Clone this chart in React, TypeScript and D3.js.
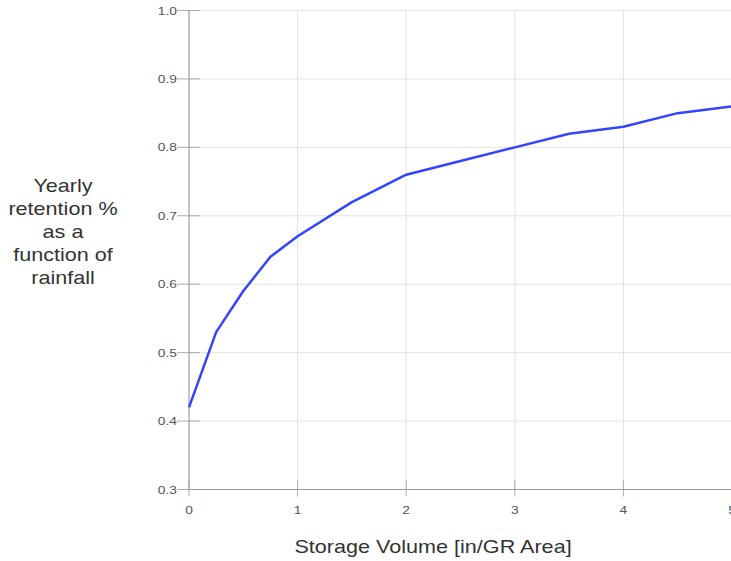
import React from "react";
import * as d3 from "d3";

const xValues = [0, 0.25, 0.5, 0.75, 1, 1.5, 2, 2.5, 3, 3.5, 4, 4.5, 5];
const yValues = [0.42, 0.53, 0.59, 0.64, 0.67, 0.72, 0.76, 0.78, 0.8, 0.82, 0.83, 0.85, 0.86];
const xTicks = [0, 1, 2, 3, 4, 5];
const yTicks = [0.3, 0.4, 0.5, 0.6, 0.7, 0.8, 0.9, 1.0];
const yLabelLines = ["Yearly", "retention %", "as a", "function of", "rainfall"];
const xTitle = "Storage Volume [in/GR Area]";

export default function App() {
  const W = 731, H = 561;
  const x = d3.scaleLinear().domain([0, 5]).range([189, 732]);
  const y = d3.scaleLinear().domain([0.3, 1.0]).range([489.5, 10.5]);
  const line = d3.line<number>().x((_, i) => x(xValues[i])).y((d) => y(d));
  const font = "'Liberation Sans', Arial, sans-serif";
  const sx = 1.2;
  return (
    <svg width={W} height={H} style={{ position: "absolute", left: 0, top: 0, background: "#fff" }}>
      {xTicks.map((t) => (
        <line key={"gx" + t} x1={x(t)} x2={x(t)} y1={y(1.0)} y2={y(0.3)} stroke="#e2e2e2" strokeWidth={1} />
      ))}
      {yTicks.map((t) => (
        <line key={"gy" + t} x1={x(0)} x2={W} y1={y(t)} y2={y(t)} stroke="#e2e2e2" strokeWidth={1} />
      ))}
      {yTicks.map((t) => (
        <g key={"ty" + t}>
          <line x1={x(0) - 12} x2={x(0) + 11} y1={y(t)} y2={y(t)} stroke="#aaa" strokeWidth={1} />
          <text transform={`translate(${x(0) - 12},${y(t) + 4}) scale(${sx},1)`} textAnchor="end" fontSize={11.5} fill="#555" fontFamily={font}>
            {t.toFixed(1)}
          </text>
        </g>
      ))}
      {xTicks.map((t) => (
        <g key={"tx" + t}>
          <line x1={x(t)} x2={x(t)} y1={y(0.3) - 9} y2={y(0.3) + 7} stroke="#aaa" strokeWidth={1} />
          <text transform={`translate(${x(t)},${y(0.3) + 24}) scale(${sx},1)`} textAnchor="middle" fontSize={11.5} fill="#555" fontFamily={font}>
            {t}
          </text>
        </g>
      ))}
      <line x1={x(0)} x2={x(0)} y1={y(1.0)} y2={y(0.3)} stroke="#999" strokeWidth={1} />
      <line x1={x(0)} x2={W} y1={y(0.3)} y2={y(0.3)} stroke="#999" strokeWidth={1} />
      <path d={line(yValues) || ""} fill="none" stroke="#3344ff" strokeWidth={2.5} strokeLinejoin="round" />
      <text transform={`translate(433,553) scale(${sx},1)`} textAnchor="middle" fontSize={18} fill="#333" fontFamily={font}>
        {xTitle}
      </text>
      {yLabelLines.map((s, i) => (
        <text key={s} transform={`translate(63,${192 + i * 23}) scale(${sx},1)`} textAnchor="middle" fontSize={18} fill="#333" fontFamily={font}>
          {s}
        </text>
      ))}
    </svg>
  );
}
